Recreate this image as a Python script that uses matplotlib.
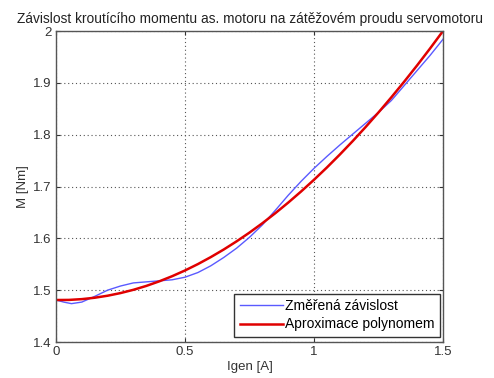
import matplotlib
matplotlib.use("Agg")
import matplotlib.pyplot as plt
import numpy as np

plt.rcParams['font.family'] = ['Liberation Sans', 'DejaVu Sans']

title = "Závislost kroutícího momentu as. motoru na zátěžovém proudu servomotoru"
xlabel = "Igen [A]"
ylabel = "M [Nm]"
legend_labels = ["Změřená závislost", "Aproximace polynomem"]

x_meas = [0.0, 0.03, 0.06, 0.1, 0.15, 0.2, 0.25, 0.3, 0.35, 0.4, 0.45, 0.5, 0.55, 0.6,
          0.65, 0.7, 0.75, 0.8, 0.85, 0.9, 0.95, 1.0, 1.05, 1.1, 1.15, 1.2, 1.25, 1.3,
          1.35, 1.4, 1.45, 1.5]
y_meas = [1.481, 1.477, 1.474, 1.477, 1.488, 1.500, 1.508, 1.514, 1.516, 1.518, 1.520,
          1.525, 1.534, 1.547, 1.563, 1.581, 1.602, 1.626, 1.654, 1.683, 1.710, 1.735,
          1.758, 1.780, 1.801, 1.822, 1.843, 1.866, 1.895, 1.924, 1.953, 1.984]

x_fit = [0.0, 0.05, 0.1, 0.15, 0.2, 0.25, 0.3, 0.35, 0.4, 0.45, 0.5, 0.55, 0.6, 0.65,
         0.7, 0.75, 0.8, 0.85, 0.9, 0.95, 1.0, 1.05, 1.1, 1.15, 1.2, 1.25, 1.3, 1.35,
         1.4, 1.45, 1.5]
y_fit = [1.481, 1.4812, 1.4827, 1.4854, 1.4893, 1.4944, 1.5007, 1.5082, 1.5170, 1.5269,
         1.538, 1.5503, 1.5638, 1.5784, 1.5942, 1.6111, 1.6292, 1.6485, 1.6689, 1.6904,
         1.713, 1.7367, 1.7616, 1.7876, 1.8147, 1.8429, 1.8722, 1.9025, 1.9339, 1.9664,
         2.000]

xticks = [0, 0.5, 1, 1.5]
xticklabels = ["0", "0.5", "1", "1.5"]
yticks = [1.4, 1.5, 1.6, 1.7, 1.8, 1.9, 2.0]
yticklabels = ["1.4", "1.5", "1.6", "1.7", "1.8", "1.9", "2"]

fig = plt.figure(figsize=(4.94, 3.78), dpi=100)
ax = fig.add_axes([56/494, 1-342/378, (443-56)/494, (342-31)/378])

ax.plot(x_meas, y_meas, color='#5a5aff', lw=1.0, label=legend_labels[0])
ax.plot(x_fit, y_fit, color='#e00000', lw=1.8, label=legend_labels[1])

ax.set_xlim(0, 1.5)
ax.set_ylim(1.4, 2.0)
ax.set_xticks(xticks)
ax.set_xticklabels(xticklabels)
ax.set_yticks(yticks)
ax.set_yticklabels(yticklabels)
ax.grid(True, linestyle=(0, (1, 2.5)), color='#555555', lw=0.8)
ax.tick_params(direction='in', top=True, right=True, labelsize=9.5, colors='#333333',
               length=3, pad=3)
for s in ax.spines.values():
    s.set_color('#555555')
    s.set_linewidth(1.0)

ax.set_title(title, fontsize=9.9, color='#222222', pad=6)
ax.set_xlabel(xlabel, fontsize=9.5, color='#333333', labelpad=2)
ax.set_ylabel(ylabel, fontsize=9.5, color='#333333', labelpad=3)

leg = ax.legend(loc='lower right', fontsize=10, fancybox=False, framealpha=1,
                edgecolor='#333333', bbox_to_anchor=(1 - 3/387, 5/311),
                borderaxespad=0, handlelength=3.1, handletextpad=0.15,
                labelspacing=0.3, borderpad=0.4)
leg.get_frame().set_linewidth(1.0)

fig.savefig('out.png', dpi=100)
